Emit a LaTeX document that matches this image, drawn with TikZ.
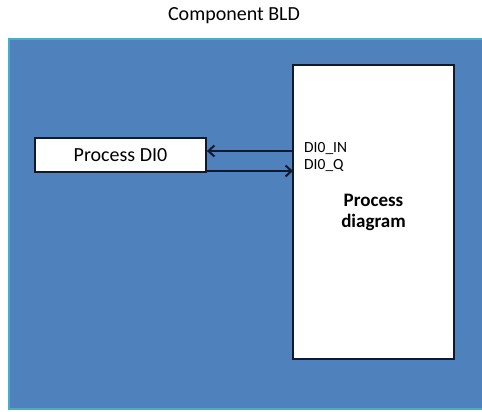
\documentclass[tikz,border=0pt]{standalone}
\usepackage{fontspec}
\usetikzlibrary{arrows.meta}
\setmainfont{Carlito}
\definecolor{bldblue}{HTML}{4F81BD}
\definecolor{bldedge}{HTML}{4BACC6}
\definecolor{boxline}{HTML}{0F1A2E}
\begin{document}
\begin{tikzpicture}[x=1pt,y=1pt,
  box/.style={draw=boxline, line width=1.8pt, fill=white, inner sep=0pt},
  port/.style={anchor=base west, inner sep=0pt, font=\fontsize{15.5}{17}\selectfont},
  link/.style={-{Straight Barb[length=6pt,width=11pt]}, line width=2pt, draw=boxline}]
\useasboundingbox (0,0) rectangle (482,412);
\node[anchor=base, font=\fontsize{20}{24}\selectfont] (title) at (234,391) {Component BLD};
\filldraw[fill=bldblue, draw=bldedge, line width=2pt] (9,3) rectangle (484,373);
\node[box, minimum width=161, minimum height=294, align=center, font=\fontsize{19}{21}\bfseries] (pd) at (373.5,200) {Process\\diagram};
\node[box, minimum width=171, minimum height=34, font=\fontsize{20}{24}\selectfont] (dio) at (120.5,257) {Process DI0};
\node[port] (inlbl) at (304,259) {DI0\_IN};
\node[port] (qlbl) at (304,242) {DI0\_Q};
\coordinate (inpin) at (293,261);
\coordinate (qpin) at (293,241);
\draw[link] (inpin) -- (dio.east |- inpin);
\draw[link] (dio.east |- qpin) -- (qpin);
\end{tikzpicture}
\end{document}
